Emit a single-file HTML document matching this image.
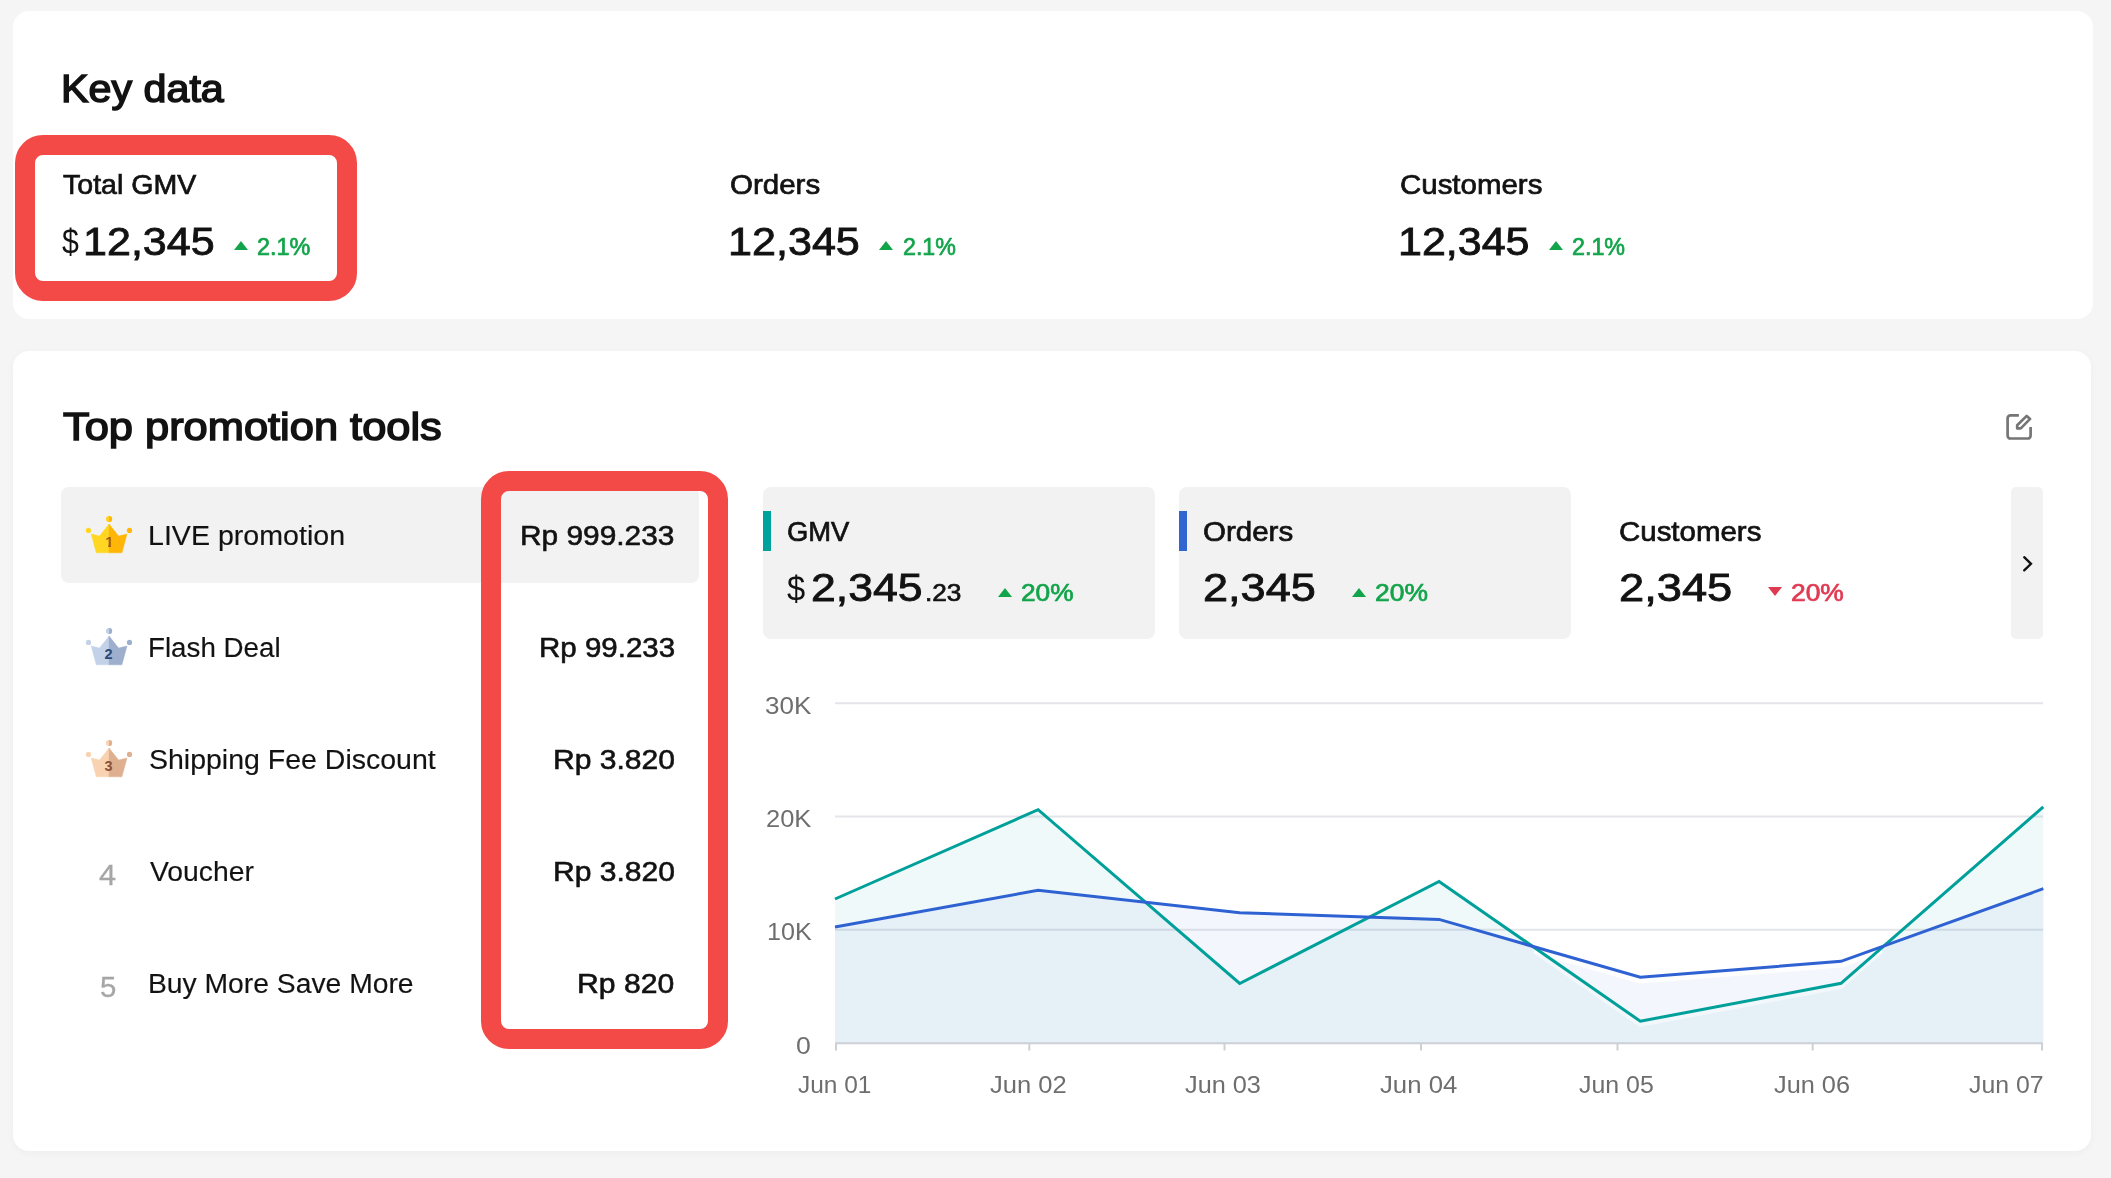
<!DOCTYPE html>
<html lang="en">
<head>
<meta charset="utf-8">
<title>Key data</title>
<style>
  html, body { margin: 0; padding: 0; }
  body {
    width: 2111px; height: 1178px; overflow: hidden; position: relative;
    background: #f5f5f5;
    font-family: "Liberation Sans", sans-serif;
    color: #121212;
  }
  .card { position: absolute; background: #fff; border-radius: 16px; }
  .t { position: absolute; white-space: nowrap; line-height: 1; transform-origin: 0 0; }
  .abs { position: absolute; }
  .txt { position: absolute; left: 0; top: 0; width: 2111px; height: 1178px; will-change: transform; }
  .h1 { -webkit-text-stroke: 1.5px currentColor; }
  .lbl { -webkit-text-stroke: 0.7px currentColor; }
  .big { -webkit-text-stroke: 0.85px currentColor; }
  .cur { }
  .pct { -webkit-text-stroke: 0.7px currentColor; }
  .green { color: #12a44a; }
  .red { color: #e03a52; }
  .name { -webkit-text-stroke: 0.15px currentColor; }
  .price { -webkit-text-stroke: 0.6px currentColor; }
  .rank { color: #a6a6a6; -webkit-text-stroke: 0.3px currentColor; }
  .ax { color: #6e6e6e; }
  .hl { position: absolute; border: 20px solid #f34a48; border-radius: 28px; box-sizing: border-box; }
  .tab { position: absolute; background: #f2f2f2; border-radius: 8px; }
  .tri-up { position: absolute; width: 0; height: 0; border-left: 7.3px solid transparent; border-right: 7.3px solid transparent; border-bottom: 9.5px solid #12a44a; }
  .tri-dn { position: absolute; width: 0; height: 0; border-left: 7.1px solid transparent; border-right: 7.1px solid transparent; border-top: 9.5px solid #e03a52; }
</style>
</head>
<body>

<!-- ============ Card 1 : Key data ============ -->
<div class="card" style="left:13px; top:11px; width:2080px; height:308px;"></div>
<div class="tri-up" style="left:233.6px; top:241.3px;"></div>
<div class="tri-up" style="left:879px; top:241.3px;"></div>
<div class="tri-up" style="left:1548.5px; top:241.3px;"></div>

<!-- ============ Card 2 : Top promotion tools ============ -->
<div class="card" style="left:13px; top:351px; width:2078px; height:800px; box-shadow:0 2px 8px rgba(0,0,0,0.035);"></div>

<!-- edit icon -->
<svg class="abs" style="left:2002px; top:410px;" width="36" height="36" viewBox="0 0 36 36" fill="none" stroke="#757575" stroke-width="2.7" stroke-linecap="butt" stroke-linejoin="round">
  <path d="M16.9 5.4 H8.4 a2.8 2.8 0 0 0 -2.8 2.8 V25.7 a2.8 2.8 0 0 0 2.8 2.8 H25.8 a2.8 2.8 0 0 0 2.8 -2.8 V16.9"/>
  <path d="M15.2 15.2 L24.7 5.9 L28.1 8.9 L18.8 18.4 H15.2 Z"/>
</svg>

<!-- list highlight row -->
<div class="abs" style="left:61px; top:487px; width:638px; height:96px; background:#f2f2f2; border-radius:8px;"></div>

<!-- crowns -->
<svg class="abs" style="left:80px; top:510px;" width="58" height="50" viewBox="80 510 58 50">
  <circle cx="109.05" cy="519" r="3.1" fill="#ffd21f"/><path d="M109.05 515.9 a3.1 3.1 0 0 1 0 6.2 Z" fill="#ffb606"/>
  <circle cx="88.5" cy="530.4" r="2.6" fill="#ffd722"/>
  <circle cx="129.5" cy="530.4" r="2.6" fill="#ffb606"/>
  <path d="M109.05 524.1 L99.5 536.1 L91.2 534 L96.3 552.8 L109.05 552.8 Z" fill="#ffd722" stroke="#ffd722" stroke-width="0.5" stroke-linejoin="round"/>
  <path d="M109.05 524.1 L118.6 536.1 L127 534 L121.9 552.8 L109.05 552.8 Z" fill="#ffb606" stroke="#ffb606" stroke-width="0.5" stroke-linejoin="round"/>
  <clipPath id="nofoot"><rect x="100" y="530" width="20" height="15"/><rect x="108.2" y="544.9" width="2.7" height="3.6"/></clipPath>
  <text x="109.2" y="547.1" text-anchor="middle" clip-path="url(#nofoot)" style="font-family:'Liberation Sans',sans-serif;font-weight:bold" font-size="14.5" fill="#a3591c">1</text>
</svg>
<svg class="abs" style="left:80px; top:622px;" width="58" height="50" viewBox="80 510 58 50">
  <circle cx="109.05" cy="519" r="3.1" fill="#c3d2e8"/><path d="M109.05 515.9 a3.1 3.1 0 0 1 0 6.2 Z" fill="#9dafcd"/>
  <circle cx="88.5" cy="530.4" r="2.6" fill="#c3d2e8"/>
  <circle cx="129.5" cy="530.4" r="2.6" fill="#9dafcd"/>
  <path d="M109.05 524.1 L99.5 536.1 L91.2 534 L96.3 552.8 L109.05 552.8 Z" fill="#c3d2e8" stroke="#c3d2e8" stroke-width="0.5" stroke-linejoin="round"/>
  <path d="M109.05 524.1 L118.6 536.1 L127 534 L121.9 552.8 L109.05 552.8 Z" fill="#9dafcd" stroke="#9dafcd" stroke-width="0.5" stroke-linejoin="round"/>
  <text x="108.6" y="547.1" text-anchor="middle" style="font-family:'Liberation Sans',sans-serif;font-weight:bold" font-size="14.5" fill="#2c4a78">2</text>
</svg>
<svg class="abs" style="left:80px; top:734px;" width="58" height="50" viewBox="80 510 58 50">
  <circle cx="109.05" cy="519" r="3.1" fill="#f9d3b1"/><path d="M109.05 515.9 a3.1 3.1 0 0 1 0 6.2 Z" fill="#deb08f"/>
  <circle cx="88.5" cy="530.4" r="2.6" fill="#f9d3b1"/>
  <circle cx="129.5" cy="530.4" r="2.6" fill="#deb08f"/>
  <path d="M109.05 524.1 L99.5 536.1 L91.2 534 L96.3 552.8 L109.05 552.8 Z" fill="#f9d3b1" stroke="#f9d3b1" stroke-width="0.5" stroke-linejoin="round"/>
  <path d="M109.05 524.1 L118.6 536.1 L127 534 L121.9 552.8 L109.05 552.8 Z" fill="#deb08f" stroke="#deb08f" stroke-width="0.5" stroke-linejoin="round"/>
  <text x="108.6" y="547.1" text-anchor="middle" style="font-family:'Liberation Sans',sans-serif;font-weight:bold" font-size="14.5" fill="#8c5238">3</text>
</svg>

<!-- metric tabs -->
<div class="tab" style="left:763px; top:487px; width:392px; height:152px;"></div>
<div class="abs" style="left:763px; top:511px; width:8px; height:40px; background:#00a39c;"></div>
<div class="tri-up" style="left:997.8px; top:588.3px;"></div>

<div class="tab" style="left:1179px; top:487px; width:392px; height:152px;"></div>
<div class="abs" style="left:1179px; top:511px; width:8px; height:40px; background:#2f66d0;"></div>
<div class="tri-up" style="left:1351.7px; top:588.3px;"></div>

<div class="tri-dn" style="left:1767.8px; top:586.8px;"></div>

<div class="abs" style="left:2011px; top:487px; width:32px; height:152px; background:#f2f2f2; border-radius:5px;"></div>
<svg class="abs" style="left:2011px; top:547px;" width="32" height="32" viewBox="0 0 32 32" fill="none" stroke="#111" stroke-width="2.3" stroke-linecap="round" stroke-linejoin="miter">
  <path d="M13.2 10.2 L20 16.8 L13.2 23.4"/>
</svg>

<!-- chart -->
<svg class="abs" style="left:740px; top:660px;" width="1340" height="470" viewBox="740 660 1340 470">
  <g stroke="#e3e5e9" stroke-width="2">
    <line x1="835" y1="703.3" x2="2043" y2="703.3"/>
    <line x1="835" y1="816.5" x2="2043" y2="816.5"/>
    <line x1="835" y1="929.8" x2="2043" y2="929.8"/>
  </g>
  <path d="M835 899 L1038.1 809.7 L1239.7 983.5 L1439.1 881.5 L1640.3 1021.2 L1841 983.3 L2043.3 806.9 L2043.3 1043 L835 1043 Z" fill="#00a09a" fill-opacity="0.058"/>
  <path d="M835 927 L1038.1 890.3 L1239.7 912.8 L1439.1 919.4 L1640.3 977.3 L1841 961.3 L2043.3 888.7 L2043.3 1043 L835 1043 Z" fill="#2e62d2" fill-opacity="0.053"/>
  <g stroke="#cdd0d6" stroke-width="2">
    <line x1="835" y1="1043.2" x2="2043" y2="1043.2"/>
    <line x1="836" y1="1043" x2="836" y2="1050.5"/>
    <line x1="1029.3" y1="1043" x2="1029.3" y2="1050.5"/>
    <line x1="1224.5" y1="1043" x2="1224.5" y2="1050.5"/>
    <line x1="1421" y1="1043" x2="1421" y2="1050.5"/>
    <line x1="1617.5" y1="1043" x2="1617.5" y2="1050.5"/>
    <line x1="1812.7" y1="1043" x2="1812.7" y2="1050.5"/>
    <line x1="2042" y1="1043" x2="2042" y2="1050.5"/>
  </g>
  <path d="M1534 947 L1640.3 977.3 L1841 961.3 L1882 947" fill="none" stroke="#fff" stroke-width="4.5" stroke-opacity="0.9" stroke-linejoin="round" transform="translate(0 4)"/>
  <path d="M1536 949 L1640.3 1021.2 L1841 983.3 L1880 949" fill="none" stroke="#fff" stroke-width="4" stroke-opacity="0.45" stroke-linejoin="round" transform="translate(0 3.8)"/>
  <path d="M835 899 L1038.1 809.7 L1239.7 983.5 L1439.1 881.5 L1640.3 1021.2 L1841 983.3 L2043.3 806.9" fill="none" stroke="#00a09a" stroke-width="3" stroke-linejoin="miter"/>
  <path d="M835 927 L1038.1 890.3 L1239.7 912.8 L1439.1 919.4 L1640.3 977.3 L1841 961.3 L2043.3 888.7" fill="none" stroke="#2e62d2" stroke-width="3" stroke-linejoin="miter"/>
</svg>

<!-- text -->
<div class="txt">
<div class="t h1" id="kd" style="left:60.60px; top:69.49px; font-size:39.00px; transform:scaleX(1.0576);">Key data</div>
<div class="t lbl" id="tg" style="left:62.72px; top:171.29px; font-size:28.00px; transform:scaleX(1.0190);">Total GMV</div>
<div class="t big" id="n1" style="left:82.74px; top:221.52px; font-size:39.60px; transform:scaleX(1.0882);">12,345</div>
<div class="t pct green" id="p1" style="left:257.49px; top:234.51px; font-size:24.20px; transform:scaleX(0.9671);">2.1%</div>
<div class="t lbl" id="or" style="left:730.46px; top:171.29px; font-size:28.00px; transform:scaleX(1.0537);">Orders</div>
<div class="t big" id="n2" style="left:727.98px; top:221.52px; font-size:39.60px; transform:scaleX(1.0890);">12,345</div>
<div class="t pct green" id="p2" style="left:903.02px; top:234.51px; font-size:24.20px; transform:scaleX(0.9589);">2.1%</div>
<div class="t lbl" id="cu" style="left:1399.84px; top:171.29px; font-size:28.00px; transform:scaleX(1.0516);">Customers</div>
<div class="t big" id="n3" style="left:1397.84px; top:221.52px; font-size:39.60px; transform:scaleX(1.0858);">12,345</div>
<div class="t pct green" id="p3" style="left:1572.42px; top:234.51px; font-size:24.20px; transform:scaleX(0.9628);">2.1%</div>
<div class="t h1" id="tp" style="left:62.53px; top:406.99px; font-size:39.00px; transform:scaleX(1.1128);">Top promotion tools</div>
<div class="t name" id="l1" style="left:147.99px; top:520.96px; font-size:28.40px; transform:scaleX(1.0072);">LIVE promotion</div>
<div class="t name" id="l2" style="left:148.04px; top:632.96px; font-size:28.40px; transform:scaleX(0.9773);">Flash Deal</div>
<div class="t name" id="l3" style="left:148.78px; top:744.96px; font-size:28.40px; transform:scaleX(1.0035);">Shipping Fee Discount</div>
<div class="t name" id="l4" style="left:150.00px; top:856.96px; font-size:28.40px; transform:scaleX(0.9985);">Voucher</div>
<div class="t name" id="l5" style="left:148.01px; top:968.96px; font-size:28.40px; transform:scaleX(0.9958);">Buy More Save More</div>
<div class="t rank" id="r4" style="left:98.95px; top:860.79px; font-size:28.60px; transform:scaleX(1.0723);">4</div>
<div class="t rank" id="r5" style="left:99.93px; top:972.79px; font-size:28.60px; transform:scaleX(1.0272);">5</div>
<div class="t price" id="v1" style="left:519.90px; top:521.04px; font-size:28.30px; transform:scaleX(1.0555);">Rp 999.233</div>
<div class="t price" id="v2" style="left:539.41px; top:633.04px; font-size:28.30px; transform:scaleX(1.0423);">Rp 99.233</div>
<div class="t price" id="v3" style="left:552.59px; top:745.04px; font-size:28.30px; transform:scaleX(1.0624);">Rp 3.820</div>
<div class="t price" id="v4" style="left:552.59px; top:857.04px; font-size:28.30px; transform:scaleX(1.0624);">Rp 3.820</div>
<div class="t price" id="v5" style="left:577.40px; top:969.04px; font-size:28.30px; transform:scaleX(1.0647);">Rp 820</div>
<div class="t lbl" id="g1" style="left:786.53px; top:517.79px; font-size:28.00px; transform:scaleX(0.9777);">GMV</div>
<div class="t big" id="m1" style="left:810.97px; top:568.02px; font-size:39.60px; transform:scaleX(1.1260);">2,345</div>
<div class="t pct" id="d1" style="left:925.00px; top:580.51px; font-size:24.20px; transform:scaleX(1.0834);">.23</div>
<div class="t pct green" id="q1" style="left:1021.12px; top:580.51px; font-size:24.20px; transform:scaleX(1.0851);">20%</div>
<div class="t lbl" id="g2" style="left:1203.19px; top:517.79px; font-size:28.00px; transform:scaleX(1.0541);">Orders</div>
<div class="t big" id="m2" style="left:1202.53px; top:568.02px; font-size:39.60px; transform:scaleX(1.1386);">2,345</div>
<div class="t pct green" id="q2" style="left:1374.71px; top:580.51px; font-size:24.20px; transform:scaleX(1.0927);">20%</div>
<div class="t lbl" id="g3" style="left:1618.58px; top:517.79px; font-size:28.00px; transform:scaleX(1.0517);">Customers</div>
<div class="t big" id="m3" style="left:1618.63px; top:568.02px; font-size:39.60px; transform:scaleX(1.1436);">2,345</div>
<div class="t pct red" id="q3" style="left:1791.19px; top:580.51px; font-size:24.20px; transform:scaleX(1.0915);">20%</div>
<div class="t ax" id="y3" style="left:764.94px; top:694.35px; font-size:24.40px; transform:scaleX(1.0675);">30K</div>
<div class="t ax" id="y2" style="left:766.46px; top:806.85px; font-size:24.40px; transform:scaleX(1.0440);">20K</div>
<div class="t ax" id="y1" style="left:767.13px; top:920.35px; font-size:24.40px; transform:scaleX(1.0292);">10K</div>
<div class="t ax" id="y0" style="left:796.44px; top:1034.35px; font-size:24.40px; transform:scaleX(1.0921);">0</div>
<div class="t ax" id="x1" style="left:798.24px; top:1073.35px; font-size:24.40px; transform:scaleX(1.0028);">Jun 01</div>
<div class="t ax" id="x2" style="left:989.87px; top:1073.35px; font-size:24.40px; transform:scaleX(1.0469);">Jun 02</div>
<div class="t ax" id="x3" style="left:1184.87px; top:1073.35px; font-size:24.40px; transform:scaleX(1.0368);">Jun 03</div>
<div class="t ax" id="x4" style="left:1380.46px; top:1073.35px; font-size:24.40px; transform:scaleX(1.0550);">Jun 04</div>
<div class="t ax" id="x5" style="left:1578.92px; top:1073.35px; font-size:24.40px; transform:scaleX(1.0204);">Jun 05</div>
<div class="t ax" id="x6" style="left:1773.50px; top:1073.35px; font-size:24.40px; transform:scaleX(1.0383);">Jun 06</div>
<div class="t ax" id="x7" style="left:1968.70px; top:1073.35px; font-size:24.40px; transform:scaleX(1.0176);">Jun 07</div>
<div class="t cur" id="s1" style="left:62.00px; top:225.48px; font-size:34.70px; transform:scaleX(0.8725);">$</div>
<div class="t cur" id="s2" style="left:786.89px; top:572.17px; font-size:34.70px; transform:scaleX(0.9428);">$</div>
</div>

<!-- highlight boxes (annotation overlays) -->
<div class="hl" style="left:15px; top:135px; width:342px; height:166px;"></div>
<div class="hl" style="left:481px; top:471px; width:247px; height:578px;"></div>

</body>
</html>
